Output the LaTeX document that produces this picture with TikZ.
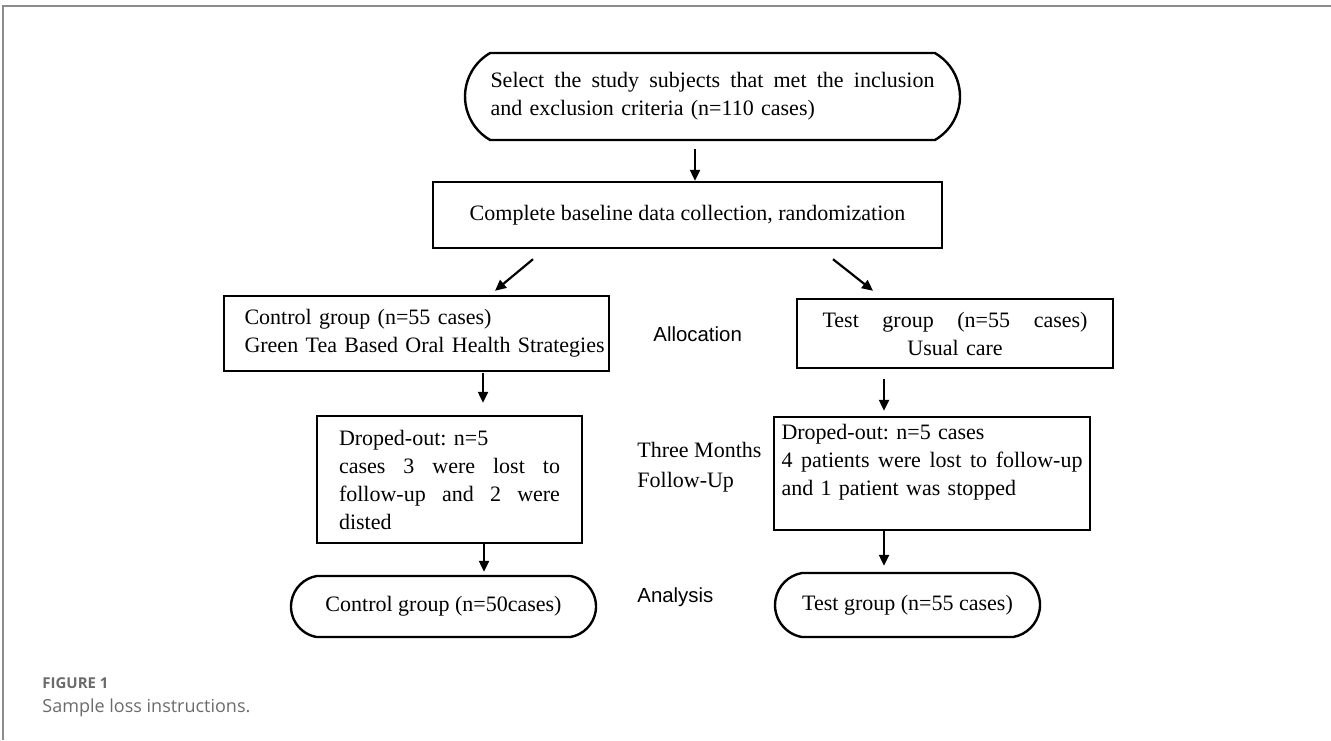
\documentclass[tikz,border=0pt]{standalone}
\usepackage{fontspec}
\setmainfont{Liberation Serif}
\newfontfamily\labelfont{Liberation Sans}
\newfontfamily\captionfont{Open Sans}
\usepackage{xcolor}
\usetikzlibrary{calc, shapes.misc, arrows.meta}
\frenchspacing

\definecolor{framegray}{gray}{0.55}
\definecolor{captiongray}{gray}{0.42}

\tikzset{
	box/.style = {draw, line width=1.2pt, inner sep=0pt, font=\fontsize{11}{14}\selectfont},
	term/.style = {box, rounded rectangle, rounded rectangle arc length=160},
	flow/.style = {line width=1.1pt, -{Triangle[length=5.5pt, width=5pt]}},
	stage/.style = {anchor=west, inner sep=0pt, font=\labelfont\fontsize{10.2}{14}\selectfont},
}

\newcommand{\spreadline}[1]{\leavevmode\hbox to \hsize{\spaceskip=0.25em plus 1fill\relax #1}}

\begin{document}
\begin{tikzpicture}[x=0.5pt, y=-0.5pt]
		\useasboundingbox (0,0) rectangle (1331,740);
		
		% frame of the figure
		\draw[framegray, line width=1pt] (3,740) -- (3,6) -- (1331,6);
		
		% flow boxes
		\node[term, rounded rectangle arc length=120, minimum width=247.5pt, minimum height=43.5pt, text width=222pt, align=left] (select) at (712.5,96.5)
			{\spreadline{Select the study subjects that met the inclusion}\\and exclusion criteria (n=110 cases)};
		\node[box, minimum width=254.5pt, minimum height=33pt] (baseline) at (687.5,215)
			{Complete baseline data collection, randomization};
		
		\node[box, minimum width=192.5pt, minimum height=37.5pt, text width=172pt, align=left] (control) at (416.5,333.5)
			{Control group (n=55 cases)\\\mbox{Green Tea Based Oral Health Strategies}};
		\node[box, minimum width=158pt, minimum height=34.5pt, text width=132.5pt, align=center] (test) at (955,333.5)
			{\spreadline{Test group (n=55 cases)}\\Usual care};
		
		\node[box, minimum width=132.5pt, minimum height=63.5pt, text width=110.5pt, align=left] (drop control) at (449.5,479.5)
			{Droped-out: n=5\\\spreadline{cases 3 were lost to}\\\spreadline{follow-up and 2 were}\\disted};
		\node[box, minimum width=158pt, minimum height=56.5pt, text width=150.5pt, align=left] (drop test) at (932,473.5)
			{Droped-out: n=5 cases\\\spreadline{4 patients were lost to follow-up}\\and 1 patient was stopped\\\mbox{}};
		
		\node[term, minimum width=152.5pt, minimum height=30.5pt] (final control) at (443.5,606.5) {Control group (n=50cases)};
		\node[term, minimum width=132.5pt, minimum height=32pt] (final test) at (907.5,605) {Test group (n=55 cases)};
		
		% stages
		\node[stage] (allocation) at (653,334) {Allocation};
		\node[stage, font=\fontsize{11}{15}\selectfont, align=left] (follow up) at (637,467) {Three Months\\Follow-Up};
		\node[stage] (analysis) at (637,597) {Analysis};
		
		% arrows
		\draw[flow] ($(select.south)+(-17.5,8)$) -- ($(baseline.north)+(7.5,0)$);
		\draw[flow] ($(baseline.south)+(-154.5,10)$) -- ($(control.north)+(78.5,-4)$);
		\draw[flow] ($(baseline.south)+(145.5,10)$) -- ($(test.north)+(-82,-7)$);
		\draw[flow] ($(control.south)+(66.5,1)$) -- ($(drop control.north)+(33.5,-12)$);
		\draw[flow] ($(test.south)+(-71,10)$) -- ($(drop test.north)+(-48,-5)$);
		\draw[flow] ($(drop control.south)+(34.5,0)$) -- ($(final control.north)+(40.5,-3)$);
		\draw[flow] ($(drop test.south)+(-48,0)$) -- ($(final test.north)+(-23.5,-6)$);
		
		% caption
		\begin{scope}[inner sep=0pt, anchor=west, text=captiongray]
			\node[font=\captionfont\bfseries\fontsize{7.5}{9}\selectfont] (figure tag) at (42,683) {FIGURE 1};
			\node[font=\captionfont\fontsize{9}{11}\selectfont] (caption) at (42,708) {Sample loss instructions.};
		\end{scope}
	\end{tikzpicture}
\end{document}
